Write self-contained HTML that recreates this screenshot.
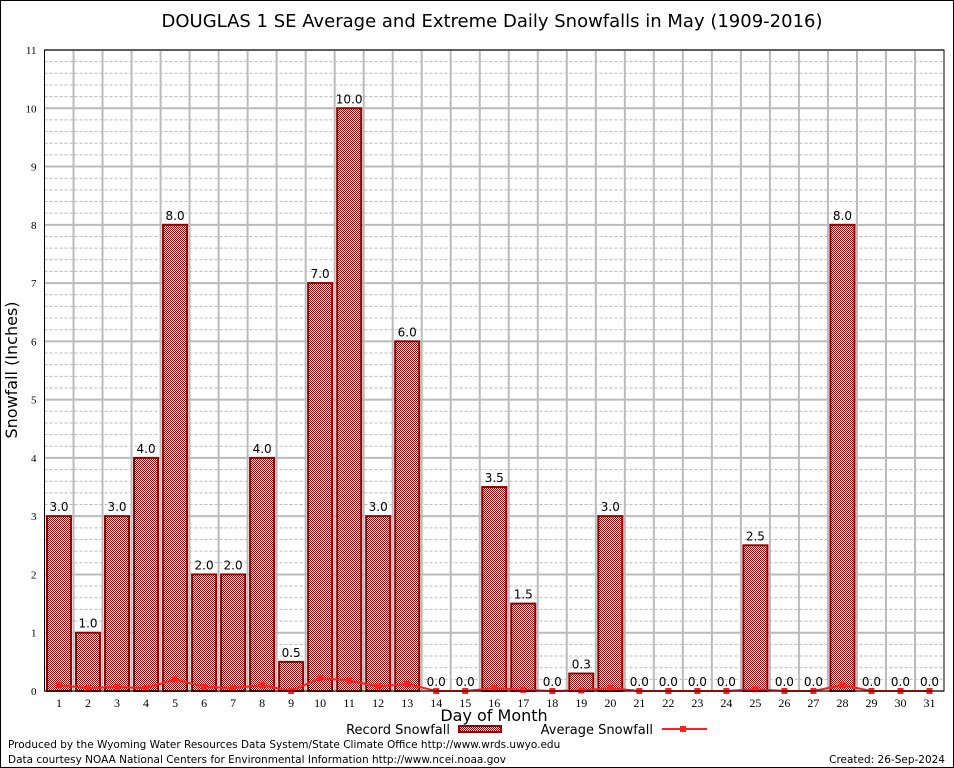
<!DOCTYPE html>
<html><head><meta charset="utf-8"><style>
html,body{margin:0;padding:0;background:#fff}
svg{display:block}
</style></head><body>
<svg id="chart" width="954" height="768" xmlns="http://www.w3.org/2000/svg">
<defs>
<pattern id="chk" width="2" height="2" patternUnits="userSpaceOnUse">
<rect width="2" height="2" fill="#fff"/><rect width="1" height="1" fill="#a00000"/><rect x="1" y="1" width="1" height="1" fill="#a00000"/>
</pattern>
</defs>
<rect x="0.5" y="0.5" width="953" height="767" fill="#fff" stroke="#000"/>
<text x="492" y="27" text-anchor="middle" font-family="DejaVu Sans, Liberation Sans, sans-serif" font-size="18">DOUGLAS 1 SE Average and Extreme Daily Snowfalls in May (1909-2016)</text>
<g id="grid"></g>
<g id="bars"></g>
<g id="avg"></g>
<g id="axes"></g>
<text transform="translate(17,370) rotate(-90)" text-anchor="middle" font-family="DejaVu Sans, Liberation Sans, sans-serif" font-size="16">Snowfall (Inches)</text>
<text x="494" y="721" text-anchor="middle" font-family="DejaVu Sans, Liberation Sans, sans-serif" font-size="16">Day of Month</text>
<g font-family="DejaVu Sans, Liberation Sans, sans-serif" font-size="13">
<text x="450" y="734" text-anchor="end">Record Snowfall</text>
<rect x="459" y="726" width="42" height="6" fill="url(#chk)" stroke="#900000" stroke-width="2"/>
<text x="653" y="734" text-anchor="end">Average Snowfall</text>
<line x1="662" y1="729" x2="707" y2="729" stroke="#ff2020" stroke-width="2"/>
<rect x="680" y="726" width="6" height="6" fill="#ff2020"/>
</g>
<g font-family="DejaVu Sans, Liberation Sans, sans-serif" font-size="10.5">
<text x="8" y="748">Produced by the Wyoming Water Resources Data System/State Climate Office http://www.wrds.uwyo.edu</text>
<text x="8" y="763">Data courtesy NOAA National Centers for Environmental Information http://www.ncei.noaa.gov</text>
<text x="945" y="763" text-anchor="end">Created: 26-Sep-2024</text>
</g>
</svg>
<script>
const days = [1,2,3,4,5,6,7,8,9,10,11,12,13,14,15,16,17,18,19,20,21,22,23,24,25,26,27,28,29,30,31];
const recordSnow = [3.0,1.0,3.0,4.0,8.0,2.0,2.0,4.0,0.5,7.0,10.0,3.0,6.0,0,0,3.5,1.5,0,0.3,3.0,0,0,0,0,2.5,0,0,8.0,0,0,0];
const avgSnow = [0.1,0.05,0.07,0.05,0.2,0.07,0.05,0.1,0.0,0.22,0.18,0.08,0.12,0,0,0.05,0.02,0,0.01,0.05,0,0,0,0,0.03,0,0,0.1,0,0,0];
const yTicks = [0,1,2,3,4,5,6,7,8,9,10,11];

const NS="http://www.w3.org/2000/svg";
const L=44.5,R=944,T=50,B=691,YMAX=11;
const dx=(R-L)/31;
const xs=d=>L+(d-0.5)*dx;
const ys=v=>B-(v/YMAX)*(B-T);
function mk(tag,attrs,parent){const e=document.createElementNS(NS,tag);for(const k in attrs)e.setAttribute(k,attrs[k]);parent.appendChild(e);return e;}
const grid=document.getElementById('grid'),bars=document.getElementById('bars'),avg=document.getElementById('avg'),axes=document.getElementById('axes');
mk('rect',{x:L,y:T,width:R-L,height:B-T,fill:'#fff'},grid);
for(let i=0;i<YMAX*5;i++){ if(i%5===0)continue; const y=ys(i/5);
 const ln=mk('line',{x1:L,x2:R,y1:y,y2:y,stroke:'#bbb','stroke-width':1,'stroke-dasharray':'3,2'},grid);
 
 }
yTicks.forEach(t=>{const y=ys(t);
 const ln=mk('line',{x1:L,x2:R,y1:y,y2:y,stroke:'#bbb','stroke-width':2},grid);
 
 
 const tx=mk('text',{x:L-8,y:y+4,'text-anchor':'end','font-family':'Liberation Serif, serif','font-size':11},axes);
 tx.textContent=t;
 
 });
for(let i=1;i<31;i++){const x=L+i*dx;
 const ln=mk('line',{x1:x,x2:x,y1:T,y2:B,stroke:'#bbb','stroke-width':2},grid);
 
 }
days.forEach((d,i)=>{const v=recordSnow[i],x=xs(d),w=24;
 if(v>0){const r=mk('rect',{x:x-w/2,y:ys(v),width:w,height:B-ys(v),fill:'url(#chk)',stroke:'#900000','stroke-width':2},bars);
 
 }
 const lb=mk('text',{x:x,y:ys(v)-5,'text-anchor':'middle','font-family':'DejaVu Sans, Liberation Sans, sans-serif','font-size':12},bars);
 lb.textContent=v.toFixed(1);
 
 
 const tx=mk('text',{x:x,y:B+16,'text-anchor':'middle','font-family':'Liberation Serif, serif','font-size':12},axes);
 tx.textContent=d;
 
 });
const pts=days.map((d,i)=>xs(d)+','+ys(avgSnow[i])).join(' ');
const pl=mk('polyline',{points:pts,fill:'none',stroke:'#ff2020','stroke-width':2},avg);


days.forEach((d,i)=>{const m=mk('rect',{x:xs(d)-3,y:ys(avgSnow[i])-3,width:6,height:6,fill:'#ff2020'},avg);
 
 });
const fr=mk('rect',{x:L,y:T,width:R-L,height:B-T,fill:'none',stroke:'#000','stroke-width':1},axes);


</script>
</body></html>
